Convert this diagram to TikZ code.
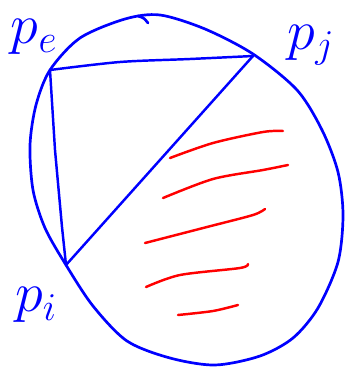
\documentclass[tikz,border=0pt]{standalone}
\usepackage{fix-cm}
\usepackage{amsmath}
\usepackage{tikz}
\usetikzlibrary{positioning}

\begin{document}
\begin{tikzpicture}[x=0.03cm, y=-0.03cm, line cap=round, line join=round,
    boundary/.style={draw=blue, line width=2.3pt},
    side/.style={draw=blue, line width=2.1pt},
    hatch/.style={draw=red, line width=2.1pt},
    vlabel/.style={text=blue, inner sep=0pt, font=\fontsize{48}{48}\selectfont}]
   \useasboundingbox (0,0) rectangle (347,370);

   % 三个顶点
   \coordinate (pe) at (50,70);
   \coordinate (pj) at (253,56);
   \coordinate (pi) at (66,265);

   \node[vlabel] (l_e) at (34,37) {$p_e$};
   \node[vlabel] (l_j) at (311,45) {$p_j$};
   \node[vlabel] (l_i) at (36,305) {$p_i$};

   % 外面的圆
   \draw[boundary] plot[smooth cycle] coordinates {
     (50,70) (80,38) (125,19) (160,15) (205,29) (253,54)
     (297,90) (322,130) (338,172) (343,215) (338,262) (318,308)
     (293,338) (260,356) (215,365) (170,358) (127,341) (93,306)
     (66,265) (45,228) (33,190) (30,145) (36,105)};
   \draw[boundary] (138,16) .. controls (144,18) .. (148,23);

   % 三角形
   \draw[side] plot[smooth, tension=0.5] coordinates {(pe) (120,62) (190,59) (pj)};
   \draw[side] (pe) -- (55,150) -- (62,227) -- (pi);
   \draw[side] (pi) -- (pj);

   % 红色阴影线
   \draw[hatch] plot[smooth] coordinates {(170,158) (213,143) (263,132) (283,131)};
   \draw[hatch] plot[smooth] coordinates {(163,198) (213,179) (263,170) (288,165)};
   \draw[hatch] plot[smooth] coordinates {(145,243) (207,227) (253,215) (265,209)};
   \draw[hatch] plot[smooth] coordinates {(146,287) (180,275) (240,268) (248,264)};
   \draw[hatch] plot[smooth] coordinates {(178,315) (213,311) (238,305)};
\end{tikzpicture}
\end{document}
